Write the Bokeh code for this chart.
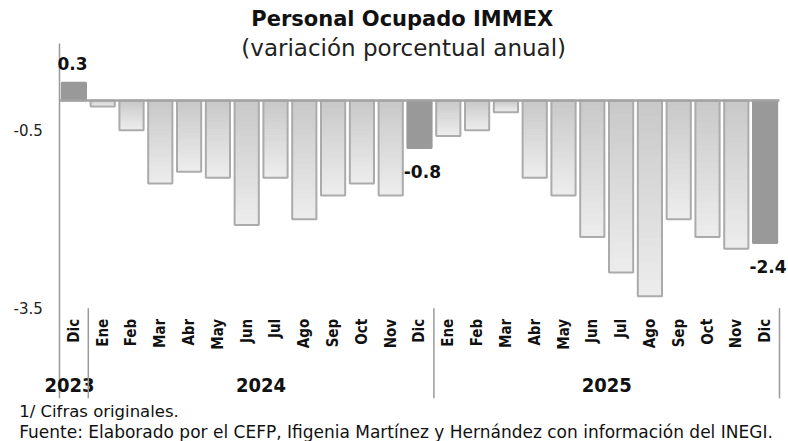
from bokeh.plotting import figure
from bokeh.models import ColumnDataSource, Range1d
from bokeh.embed import file_html
from bokeh.resources import INLINE
from bokeh.core.properties import value

# ---- data ----
months = ["Dic",
          "Ene", "Feb", "Mar", "Abr", "May", "Jun", "Jul", "Ago", "Sep", "Oct", "Nov", "Dic",
          "Ene", "Feb", "Mar", "Abr", "May", "Jun", "Jul", "Ago", "Sep", "Oct", "Nov", "Dic"]
years_of_bar = ["2023"] + ["2024"] * 12 + ["2025"] * 12
values = [0.3,
          -0.1, -0.5, -1.4, -1.2, -1.3, -2.1, -1.3, -2.0, -1.6, -1.4, -1.6, -0.8,
          -0.6, -0.5, -0.2, -1.3, -1.6, -2.3, -2.9, -3.3, -2.0, -2.3, -2.5, -2.4]
highlight = [m == "Dic" for m in months]
year_labels = ["2023", "2024", "2025"]
y_ticks = [-0.5, -3.5]
title_text = "Personal Ocupado IMMEX"
subtitle_text = "(variación porcentual anual)"
note_text = "1/ Cifras originales."
source_text = "Fuente: Elaborado por el CEFP, Ifigenia Martínez y Hernández con información del INEGI."

# ---- styles ----
TITLE_FONT = "DejaVu Sans"
BODY_FONT = "DejaVu Sans"
CAT_FONT = "DejaVu Sans Condensed"
GRAD_TOP = (200, 200, 200)
GRAD_BOTTOM = (237, 237, 237)
GRAD_STEPS = 24
BAR_LINE = "#ababab"
HI_FILL = "#999999"
AXIS_COLOR = "#9a9a9a"
TEXT_COLOR = "#111111"
BAR_WIDTH = 0.84

n = len(months)
xs = list(range(n))

# frame covers the whole canvas; chart area is x in [-0.5, n-0.5]
X0, X1 = -0.5, n - 0.5
Y_TOP, Y_BOT = 0.961, -5.02
p = figure(width=788, height=441, output_backend="svg", toolbar_location=None,
           x_range=Range1d(-2.5486, 24.8125), y_range=Range1d(-5.7475, 1.6855),
           x_axis_location=None, y_axis_location=None,
           min_border=0, tools="")
p.outline_line_color = None
p.grid.visible = False
p.background_fill_color = "white"
p.border_fill_color = "white"

# gradient fill for regular bars (slices along each bar's length)
gl, gr, gt, gb, gc = [], [], [], [], []
for i, (v, h) in enumerate(zip(values, highlight)):
    if h:
        continue
    for k in range(GRAD_STEPS):
        f0, f1 = k / GRAD_STEPS, (k + 1) / GRAD_STEPS
        t = (k + 0.5) / GRAD_STEPS
        c = tuple(round(a + (b - a) * t) for a, b in zip(GRAD_TOP, GRAD_BOTTOM))
        gl.append(i - BAR_WIDTH / 2)
        gr.append(i + BAR_WIDTH / 2)
        gt.append(v * f0)
        gb.append(v * f1)
        gc.append("#%02x%02x%02x" % c)
p.quad(left=gl, right=gr, top=gt, bottom=gb, fill_color=gc, line_color=gc, line_width=1)

# bar outlines / highlighted bars
src = ColumnDataSource(dict(
    x=xs, top=values, month=months,
    fill=[HI_FILL if h else None for h in highlight],
    line=[HI_FILL if h else BAR_LINE for h in highlight]))
p.vbar(x="x", top="top", bottom=0, width=BAR_WIDTH, source=src,
       fill_color="fill", line_color="line", line_width=2)

# zero line
p.segment(x0=[X0], x1=[X1], y0=[0], y1=[0], line_color="#a3a3a3", line_width=2.5)

# value axis: line + tick labels
p.segment(x0=[X0], x1=[X0], y0=[Y_TOP], y1=[Y_BOT], line_color=AXIS_COLOR, line_width=1.5)
p.text(x=[X0 - 0.58] * len(y_ticks), y=y_ticks, text=[f"{t:.1f}" for t in y_ticks],
       text_align="right", text_baseline="middle",
       text_font=value(BODY_FONT), text_font_size="15px", text_color="#222222")

# month labels (rotated)
p.text(x="x", y=-3.68, text="month", source=src, angle=1.5708,
       text_align="right", text_baseline="middle",
       text_font=value(CAT_FONT), text_font_style="bold",
       text_font_size="15px", text_color=TEXT_COLOR)

# year group labels
year_x = [sum(i for i in xs if years_of_bar[i] == y) / years_of_bar.count(y) for y in year_labels]
year_x[0] -= 0.15
p.text(x=year_x, y=[-4.80] * 3, text=year_labels, text_align="center", text_baseline="middle",
       text_font=value(CAT_FONT), text_font_style="bold", text_font_size="20px",
       text_color=TEXT_COLOR)

# separators between year groups (and at the right end)
sep_x = [i + 0.5 for i in range(n - 1) if years_of_bar[i] != years_of_bar[i + 1]] + [X1]
p.segment(x0=sep_x, x1=sep_x, y0=[y_ticks[-1]] * len(sep_x), y1=[Y_BOT] * len(sep_x),
          line_color=AXIS_COLOR, line_width=1.5)

# value labels for highlighted bars
hx, hy, ht = [], [], []
for i, (v, h) in enumerate(zip(values, highlight)):
    if h:
        hx.append(i + (-0.05 if v > 0 else 0.1))
        hy.append(v + (0.33 if v > 0 else -0.39))
        ht.append(f"{v:.1f}")
p.text(x=hx, y=hy, text=ht, text_align="center", text_baseline="middle",
       text_font=value(BODY_FONT), text_font_style="bold", text_font_size="17px",
       text_color=TEXT_COLOR)

# titles
p.text(x=[11.4], y=[1.37], text=[title_text], text_align="center", text_baseline="middle",
       text_font=value(TITLE_FONT), text_font_style="bold", text_font_size="21px",
       text_color=TEXT_COLOR)
p.text(x=[11.45], y=[0.89], text=[subtitle_text], text_align="center", text_baseline="middle",
       text_font=value(TITLE_FONT), text_font_size="23px", text_color="#222222")

# footnotes
p.text(x=[-1.9], y=[-5.245], text=[note_text], text_align="left", text_baseline="middle",
       text_font=value(BODY_FONT), text_font_size="16.5px", text_color=TEXT_COLOR)
p.text(x=[-1.9], y=[-5.59], text=[source_text], text_align="left", text_baseline="middle",
       text_font=value(BODY_FONT), text_font_size="17px", text_color=TEXT_COLOR)

open("out.html", "w").write(file_html(p, INLINE))
